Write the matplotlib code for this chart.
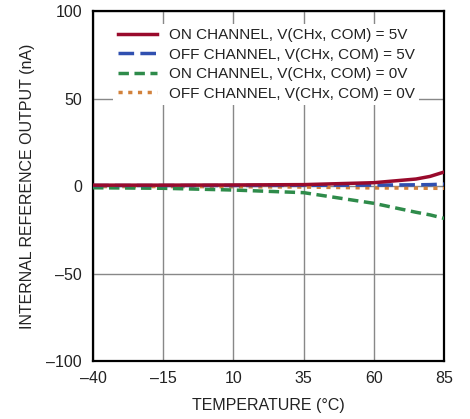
import numpy as np
from matplotlib import pyplot as plt
from matplotlib.ticker import FuncFormatter

plt.rcParams['font.family'] = ['Liberation Sans Narrow', 'Liberation Sans', 'DejaVu Sans']

temp = [-40, -15, 10, 35, 60, 75, 80, 85]
on_5v = [0.5, 0.5, 0.6, 0.8, 1.9, 4.0, 5.5, 8.0]
off_5v = [0.3, 0.3, 0.3, 0.4, 0.5, 0.7, 0.8, 1.1]
on_0v = [-1.0, -1.3, -2.3, -3.8, -9.9, -15.0, -16.5, -18.5]
off_0v = [-0.3, -0.3, -0.4, -0.6, -1.1, -1.2, -1.3, -1.3]

labels = ["ON CHANNEL, V(CHx, COM) = 5V",
          "OFF CHANNEL, V(CHx, COM) = 5V",
          "ON CHANNEL, V(CHx, COM) = 0V",
          "OFF CHANNEL, V(CHx, COM) = 0V"]

x_ticks = [-40, -15, 10, 35, 60, 85]
y_ticks = [-100, -50, 0, 50, 100]

fig = plt.figure(figsize=(4.70, 4.19), dpi=100)
ax = fig.add_axes([0.198, 0.1384, 0.747, 0.8353])

ax.plot(temp, off_0v, color="#d2823c", lw=2.5, ls=(0, (1.2, 1.6)), label=labels[3], zorder=3)
ax.plot(temp, on_0v, color="#2e8b4a", lw=2.5, ls=(0, (3, 1.6)), label=labels[2], zorder=3)
ax.plot(temp, off_5v, color="#3050b0", lw=2.5, ls=(0, (4.5, 1.8)), label=labels[1], zorder=4)
ax.plot(temp, on_5v, color="#990a2c", lw=2.5, label=labels[0], zorder=5)

ax.set_xlim(-40, 85)
ax.set_ylim(-100, 100)
ax.set_xticks(x_ticks)
ax.set_yticks(y_ticks)
dash = FuncFormatter(lambda v, p: f"{v:g}".replace("-", "\u2013"))
ax.xaxis.set_major_formatter(dash)
ax.yaxis.set_major_formatter(dash)
ax.tick_params(length=0, labelsize=11.5, colors="#222222")
ax.tick_params(axis="x", pad=7)
ax.tick_params(axis="y", pad=8)
ax.grid(True, color="#888888", lw=1)
ax.set_axisbelow(True)
for s in ax.spines.values():
    s.set_linewidth(1.6)

ax.set_xlabel("TEMPERATURE (°C)", fontsize=11.5, color="#222222", labelpad=9)
ax.set_ylabel("INTERNAL REFERENCE OUTPUT (nA)", fontsize=11.5, color="#222222", labelpad=8)

handles, labs = ax.get_legend_handles_labels()
leg = ax.legend(handles[::-1], labs[::-1], loc="upper left", bbox_to_anchor=(0.035, 0.985),
                frameon=True, framealpha=1, edgecolor="white", fontsize=11,
                handlelength=2.6, labelspacing=0.35, borderpad=0.3, handletextpad=0.75)
leg.get_frame().set_linewidth(0)
for t in leg.get_texts():
    t.set_color("#222222")

fig.savefig("out.png", dpi=100)
